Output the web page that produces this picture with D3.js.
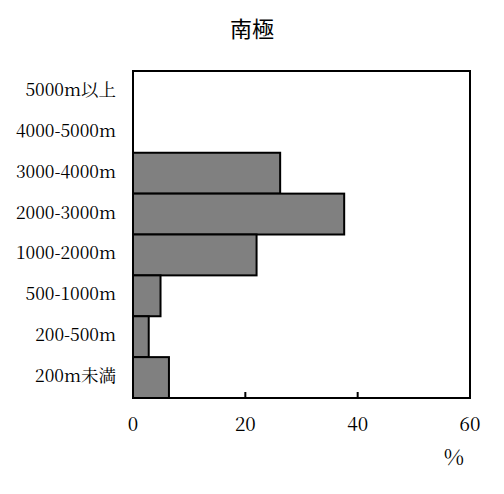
<!DOCTYPE html>
<html>
<head>
<meta charset="utf-8">
<script src="https://cdn.jsdelivr.net/npm/d3@7"></script>
<style>
  body { margin: 0; background: #fff; }
  text { font-family: "Noto Serif CJK JP", "Liberation Serif", serif; fill: #000; }
</style>
</head>
<body>
<svg id="chart" width="504" height="494"></svg>
<script>
// altitude bands, top to bottom
var categories = ['5000m以上', '4000-5000m', '3000-4000m', '2000-3000m', '1000-2000m', '500-1000m', '200-500m', '200m未満'];
// share of area (%)
var values = [0, 0, 26.2, 37.6, 22.0, 4.9, 2.8, 6.4];
var xTicks = [0, 20, 40, 60];

var svg = d3.select('#chart');
var margin = {left: 133, right: 34, top: 71, bottom: 96};
var width = 504 - margin.left - margin.right;
var height = 494 - margin.top - margin.bottom;

var x = d3.scaleLinear().domain([0, 60]).range([0, width]);
var y = d3.scaleBand().domain(categories).range([0, height]).padding(0);

var g = svg.append('g').attr('transform', 'translate(' + margin.left + ',' + margin.top + ')');

// bars
g.selectAll('rect.bar')
  .data(values)
  .enter().append('rect')
    .attr('class', 'bar')
    .attr('x', 0)
    .attr('y', function(d, i){ return y(categories[i]); })
    .attr('width', function(d){ return x(d); })
    .attr('height', y.bandwidth())
    .attr('fill', function(d){ return d > 0 ? '#808080' : 'none'; })
    .attr('stroke', function(d){ return d > 0 ? '#000' : 'none'; })
    .attr('stroke-width', 2);

// inner tick marks on the bottom edge
g.selectAll('line.tick')
  .data(xTicks.slice(1, -1))
  .enter().append('line')
    .attr('x1', function(d){ return x(d); })
    .attr('x2', function(d){ return x(d); })
    .attr('y1', height)
    .attr('y2', height - 6)
    .attr('stroke', '#000')
    .attr('stroke-width', 2);

// frame
g.append('rect')
  .attr('width', width)
  .attr('height', height)
  .attr('fill', 'none')
  .attr('stroke', '#000')
  .attr('stroke-width', 2);

// tick labels
g.selectAll('text.xlab')
  .data(xTicks)
  .enter().append('text')
    .attr('class', 'xlab')
    .attr('x', function(d){ return x(d); })
    .attr('y', height + 28)
    .attr('dominant-baseline', 'middle')
    .attr('text-anchor', 'middle')
    .style('font-size', '19px')
    .text(function(d){ return d; });

// category labels
g.selectAll('text.ylab')
  .data(categories)
  .enter().append('text')
    .attr('class', 'ylab')
    .attr('x', -17)
    .attr('y', function(d){ return y(d) + y.bandwidth() / 2; })
    .attr('dominant-baseline', 'middle')
    .attr('text-anchor', 'end')
    .style('font-size', '17.5px')
    .text(function(d){ return d; });

// unit
svg.append('text')
  .attr('x', 454)
  .attr('y', 459)
  .attr('dominant-baseline', 'middle')
  .attr('text-anchor', 'middle')
  .style('font-size', '22px')
  .text('%');

// title
svg.append('text')
  .attr('x', 252)
  .attr('y', 31)
  .attr('dominant-baseline', 'middle')
  .attr('text-anchor', 'middle')
  .style('font-family', '"Noto Sans CJK JP", sans-serif')
  .style('font-size', '22px')
  .text('南極');
</script>
</body>
</html>
